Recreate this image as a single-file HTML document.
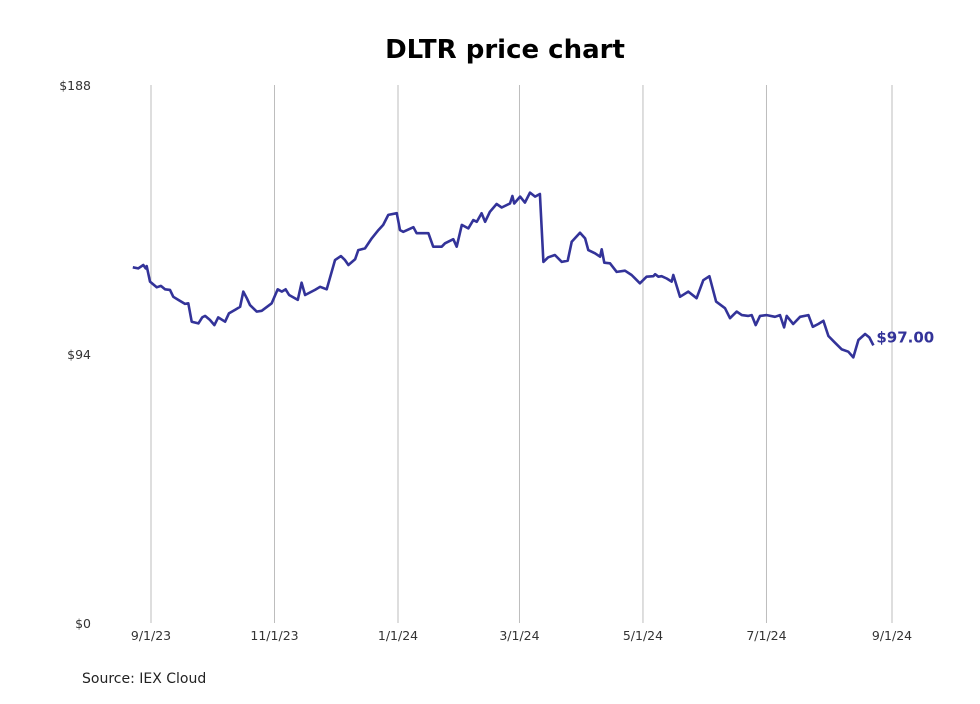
<!DOCTYPE html>
<html><head><meta charset="utf-8"><style>
body{margin:0;background:#fff;width:980px;height:699px;overflow:hidden;font-family:"Liberation Sans","DejaVu Sans",sans-serif;}
</style></head><body>
<svg width="980" height="699" id="chart">
<text x="505" y="58" text-anchor="middle" font-size="26" font-weight="bold" font-family="DejaVu Sans, sans-serif" fill="#000">DLTR price chart</text>
<text x="82" y="683" font-size="14" font-family="DejaVu Sans, sans-serif" fill="#222">Source: IEX Cloud</text>
<g id="grid"></g><g id="yaxis"></g><g id="xaxis"></g><g id="series"></g>
</svg>
<script>
const xTickLabels=["9/1/23","11/1/23","1/1/24","3/1/24","5/1/24","7/1/24","9/1/24"];
const xTickDays=[0,61,122,182,243,304,366];
const yTickValues=[0,94,188];
const yTickLabels=["$0","$94","$188"];
const days=[-9,-6.3,-3.8,-2.6,-2.1,-0.5,2.8,4.9,6.9,9.4,11,13.5,16.8,18.4,20.1,23.4,25.3,26.7,29.1,31.3,33.2,36.6,38.5,41.5,44,45.6,47.3,48.9,52.2,54.7,59.6,62.6,64.6,66.5,68.2,72.5,74.4,76.1,81,83.5,86.8,90.9,93.8,95.8,97.5,100.8,102.4,105.7,109,112.3,114.7,117.2,121.4,123,124.6,129.6,131.2,137,139.4,143.6,145.2,149.3,151,153.5,156.7,159.2,160.9,163.3,165,167.4,170.7,173.2,177.3,178.5,179.4,182.3,184.7,187.2,189.7,192.1,193.8,196.2,199.5,202.9,205.8,207.8,211.9,214.4,216,219.3,221.8,222.6,223.9,226.7,230,234.1,237.4,241.5,244.8,248.1,249,250.6,252.2,254.7,257.2,258,261.3,265.4,269.5,272.8,275.8,279.1,283.5,286,289.3,291.8,295,296.7,298.7,300.8,304.1,308.2,310.7,312.7,314,317.2,320.6,324.7,326.9,329.6,332.1,334.6,337.9,341.2,344.4,346.9,349.4,352.7,354.8,356.8];
const prices=[124.3,123.9,125.1,123.9,124.7,119.3,117.3,117.8,116.6,116.4,114,112.9,111.5,111.7,105.3,104.7,106.8,107.3,105.9,104.1,106.8,105.3,108.2,109.4,110.5,115.8,113.5,111.1,108.8,109.1,111.7,116.6,115.8,116.6,114.6,112.9,118.9,114.6,116.4,117.5,116.6,126.8,128.2,126.8,125.1,127.1,130.3,130.9,134.4,137.3,139.1,142.6,143.2,137.3,136.7,138.3,136.2,136.2,131.5,131.5,132.7,134.1,131.5,139.1,137.9,140.8,140.2,143.2,140.2,143.7,146.4,145.2,146.6,149.2,146.6,149,146.9,150.4,149,149.9,126.2,127.8,128.6,126.2,126.6,133.2,136.4,134.4,130.3,129.2,128,130.6,125.9,125.7,122.7,123.1,121.6,118.7,121,121.2,121.9,121,121.2,120.4,119.3,121.6,114,115.8,113.5,119.8,121.2,112.3,110,106.5,108.8,107.6,107.3,107.6,104.1,107.3,107.6,107,107.6,103.3,107.3,104.5,107,107.6,103.5,104.5,105.6,100.3,97.9,95.6,94.8,92.8,98.9,101,99.8,97];
const NS="http://www.w3.org/2000/svg";
const X0=151,PXD=741/366,Y0=623,TOP=85,YMAX=188;
const xs=d=>X0+d*PXD, ys=v=>Y0-(v/YMAX)*(Y0-TOP);
function mk(tag,attrs,parent){const e=document.createElementNS(NS,tag);for(const k in attrs)e.setAttribute(k,attrs[k]);parent.appendChild(e);return e;}
const grid=document.getElementById('grid'),xa=document.getElementById('xaxis'),ya=document.getElementById('yaxis'),ser=document.getElementById('series');
xTickDays.forEach((d,i)=>{
 const l=mk('line',{x1:xs(d),x2:xs(d),y1:TOP,y2:Y0,stroke:'#bdbdbd','stroke-width':1},grid);
 
 
 const t=mk('text',{x:xs(d),y:640,'text-anchor':'middle','font-size':12.5,fill:'#333','font-family':'DejaVu Sans, sans-serif'},xa);
 t.textContent=xTickLabels[i];
 
 
});
yTickValues.forEach((v,i)=>{
 const t=mk('text',{x:91,y:ys(v)+5,'text-anchor':'end','font-size':12.5,fill:'#333','font-family':'DejaVu Sans, sans-serif'},ya);
 t.textContent=yTickLabels[i];
 
 
});
const pts=days.map((d,i)=>xs(d).toFixed(1)+','+ys(prices[i]).toFixed(1)).join(' ');
const pl=mk('polyline',{points:pts,fill:'none',stroke:'#333399','stroke-width':2.6,'stroke-linejoin':'round'},ser);


const last=prices.length-1;
const lb=mk('text',{x:xs(days[last])+3,y:ys(prices[last])-3,'font-size':15,'font-weight':'bold',fill:'#333399','font-family':'DejaVu Sans, sans-serif'},ser);
lb.textContent='$'+prices[last].toFixed(2);


</script>
</body></html>
